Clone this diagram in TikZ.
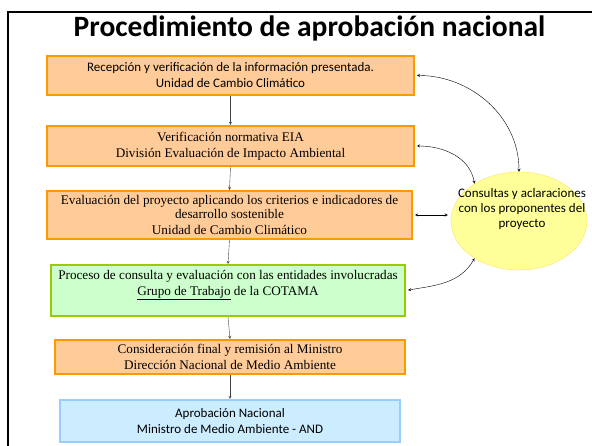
\documentclass[tikz,border=0pt]{standalone}
\usepackage{fontspec}
\setmainfont{Liberation Serif}
\newfontfamily\calibri{Carlito}
\usepackage{tikz}
\usetikzlibrary{shapes.geometric}

\definecolor{peach}{RGB}{255,204,153}
\definecolor{orangeline}{RGB}{255,153,0}
\definecolor{mint}{RGB}{204,255,204}
\definecolor{limeline}{RGB}{153,204,0}
\definecolor{skyfill}{RGB}{204,236,255}
\definecolor{skyline}{RGB}{153,204,255}
\definecolor{lemon}{RGB}{255,255,153}
\definecolor{lemonline}{RGB}{255,224,102}

\begin{document}
\begin{tikzpicture}[x=1pt,y=1pt,
		paso/.style = {draw, line width=2pt, align=center, inner sep=0pt},
		naranja/.style = {paso, draw=orangeline, fill=peach},
		serif/.style = {font=\fontsize{13.2}{13.5}\selectfont},
		sans/.style = {font=\calibri\fontsize{13}{14}\selectfont},
		flecha/.style = {->, >=stealth, black!75},
		ida/.style = {<->, >=stealth, black}]
		\useasboundingbox (0,0) rectangle (592,446);
		\draw[line width=1.6pt] (8,-5) -- (8,434) -- (600,434);
		\node[anchor = base, font=\calibri\bfseries\fontsize{29.5}{32}\selectfont] (titulo) at (309.5,409) {Procedimiento de aprobación nacional};
		\node[naranja, sans, minimum width=367, minimum height=39] (b1) at (230.5,370.5)
			{Recepción y verificación de la información presentada.\\[2pt] Unidad de Cambio Climático};
		\node[naranja, serif, minimum width=367, minimum height=40] (b2) at (230.5,300)
			{Verificación normativa EIA\\[2.5pt] División Evaluación de Impacto Ambiental};
		\node[naranja, serif, minimum width=365, minimum height=48] (b3) at (229.5,231)
			{Evaluación del proyecto aplicando los criterios e indicadores de\\ desarrollo sostenible\\[2.5pt] Unidad de Cambio Climático};
		\node[paso, draw=limeline, fill=mint, serif, minimum width=354, minimum height=51] (b4) at (228,155.5)
			{Proceso de consulta y evaluación con las entidades involucradas\\[2.5pt] \underline{Grupo de Trabajo} de la COTAMA\\[2.5pt] \mbox{}};
		\node[naranja, serif, minimum width=350, minimum height=34] (b5) at (230,89)
			{Consideración final y remisión al Ministro\\[2.5pt] Dirección Nacional de Medio Ambiente};
		\node[paso, draw=skyline, fill=skyfill, sans, minimum width=340, minimum height=42] (b6) at (230,25)
			{Aprobación Nacional\\[2pt] Ministro de Medio Ambiente - AND};
		\node[ellipse, draw=lemonline, fill=lemon, inner sep=0pt, minimum width=136, minimum height=98,
			label={[sans, align=center, xshift=3pt, yshift=12pt]center:Consultas y aclaraciones\\[1pt] con los proponentes del\\[1pt] proyecto}] (cons) at (519,225) {};
		\draw[flecha] (b1.south) -- (b2.north);
		\draw[flecha] (b2.south) -- (b3.north);
		\draw[flecha] (b3.south) -- (b4.north);
		\draw[flecha] (b4.south) -- (b5.north);
		\draw[flecha] (b5.south) -- (b6.north);
		\draw[ida, shorten <=2pt] (b1.east) to[out=0, in=90] (cons.north);
		\draw[ida, shorten <=2pt] (b2.east) to[out=0, in=100] (cons.140);
		\draw[ida, shorten <=2pt, shorten >=3pt] (b3.east) -- (b3.east -| cons.west);
		\draw[ida, shorten <=2pt] (b4.east) to[out=10, in=240] (cons.220);
	\end{tikzpicture}
\end{document}
